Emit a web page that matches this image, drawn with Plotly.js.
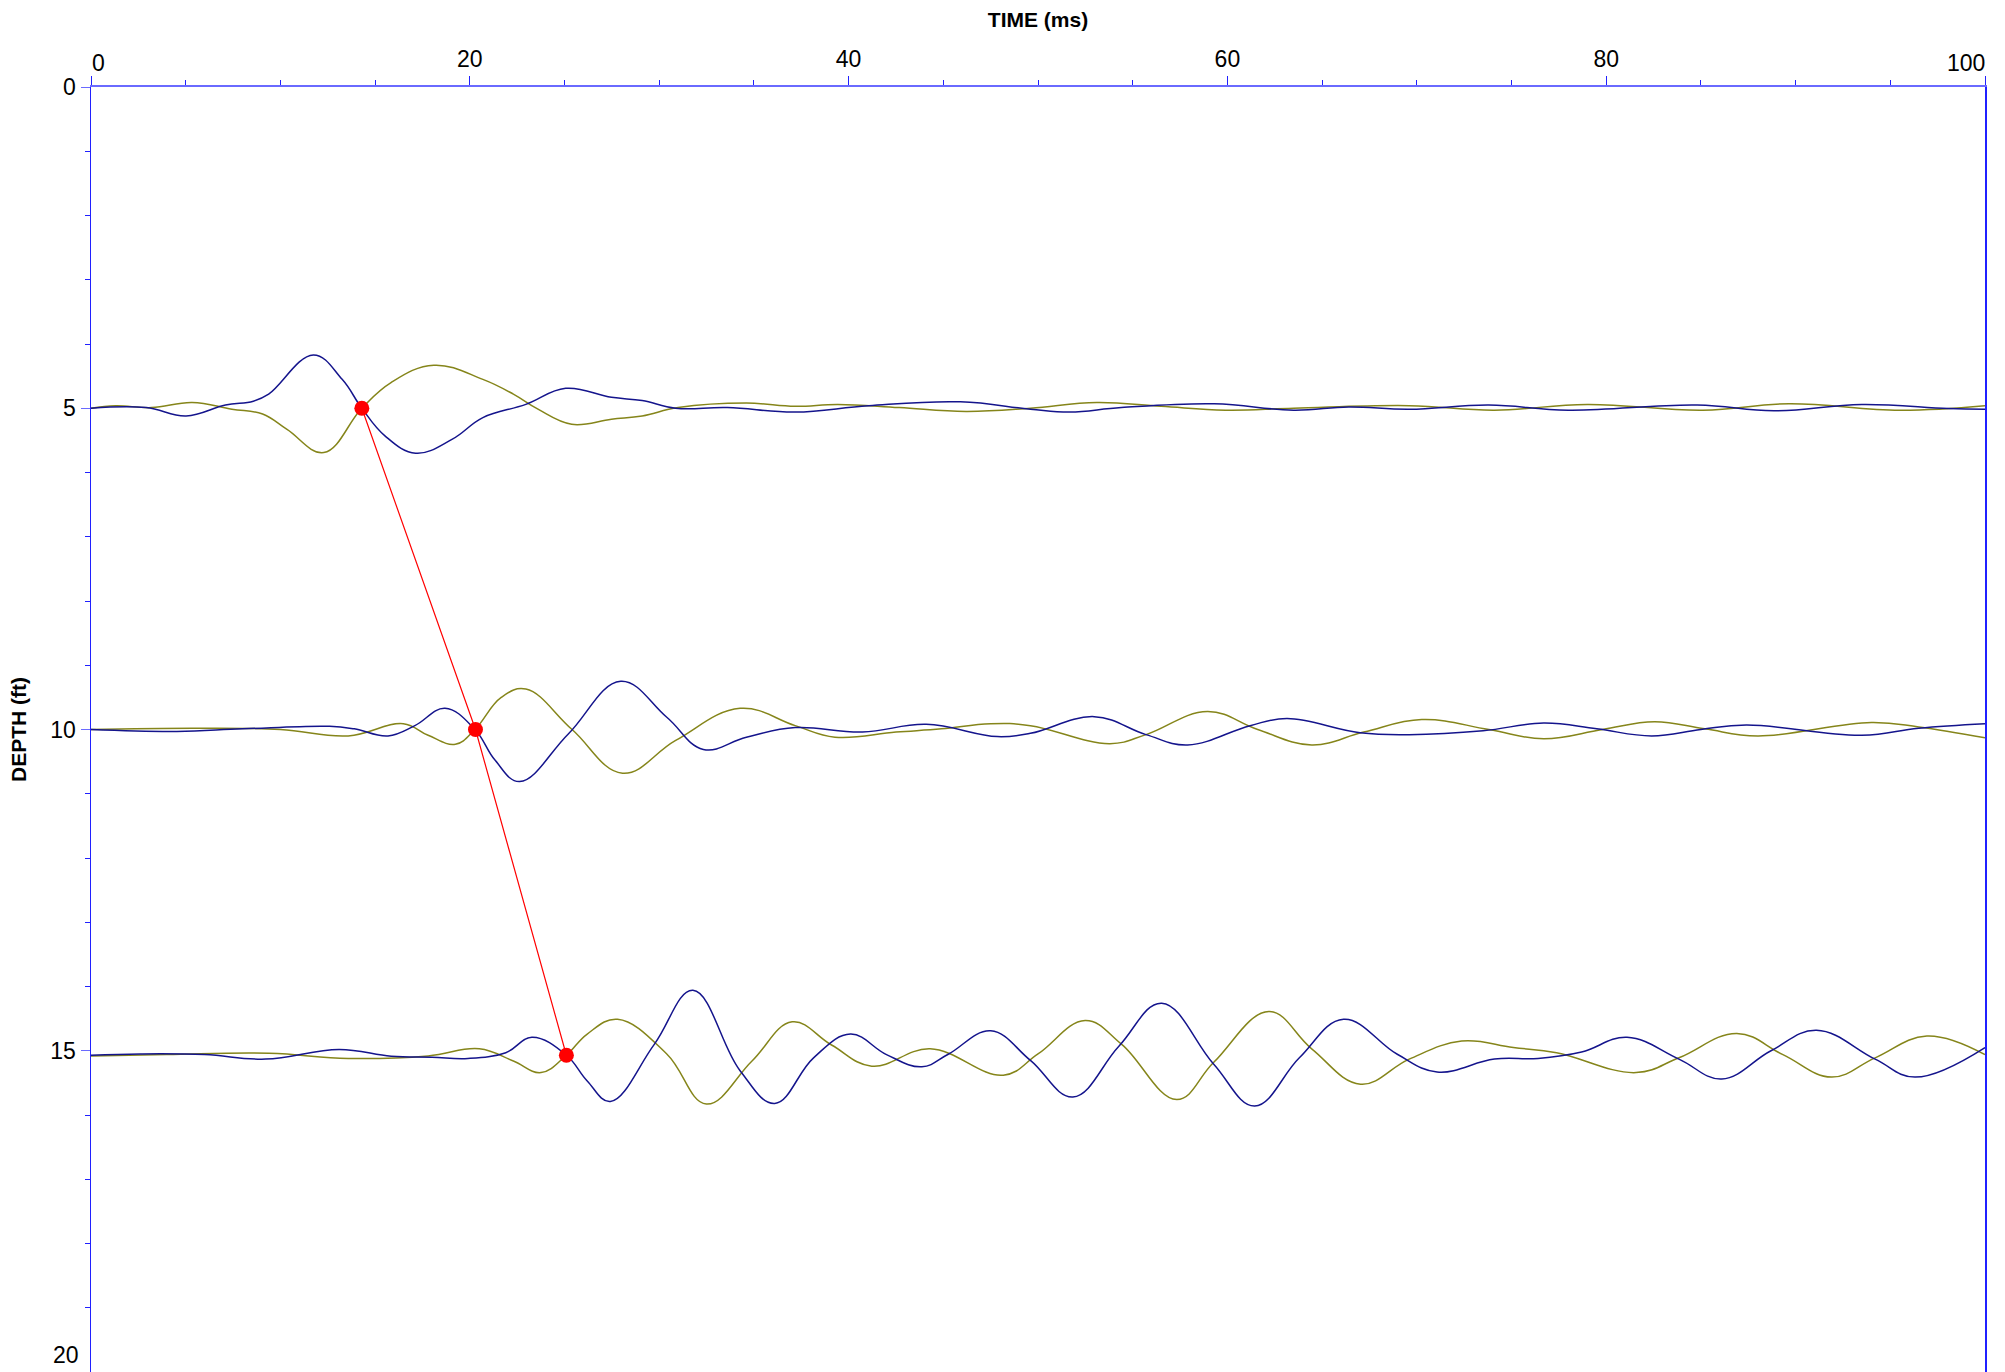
<!DOCTYPE html>
<html>
<head>
<meta charset="utf-8">
<script src="https://cdn.plot.ly/plotly-3.0.1.min.js"></script>
<style>html,body{margin:0;padding:0;background:#fff;overflow:hidden}</style>
</head>
<body>
<div id="chart" style="width:2005px;height:1372px"></div>
<script>
// ---- Data (time in ms, depth in ft) ----
const blue5 = [[0,5.0],[2.9,4.99],[5.02,5.12],[7.1,4.95],[8.57,4.89],[9.38,4.78],[11.74,4.17],[13.26,4.55],[14.3,5.0],[15.52,5.43],[17.14,5.70],[19.08,5.48],[20.69,5.145],[22.96,4.94],[25.06,4.69],[27.48,4.83],[29.1,4.88],[30.87,5.0],[33.6,4.99],[37.18,5.06],[41.06,4.96],[45.9,4.90],[49.6,5.015],[51.68,5.06],[54.4,4.99],[59.3,4.93],[63.5,5.03],[66.4,4.98],[69.6,5.015],[73.8,4.95],[78.0,5.03],[84.8,4.95],[88.85,5.04],[93.5,4.94],[98.06,5.005],[100,5.015]];
const olive5 = [[0,5.0],[1.3,4.96],[3.2,4.99],[5.34,4.91],[7.44,5.015],[9.06,5.09],[10.35,5.33],[12.29,5.69],[14.3,5.0],[15.84,4.60],[18.1,4.33],[20.69,4.55],[22.3,4.78],[23.6,5.015],[25.38,5.25],[27.48,5.17],[29.1,5.12],[31.0,4.99],[34.6,4.92],[37.18,4.97],[39.44,4.94],[42.67,4.99],[46.2,5.05],[49.6,5.0],[53.1,4.91],[56.5,4.97],[59.9,5.03],[63.5,5.0],[69.6,4.96],[74.1,5.03],[79.0,4.94],[85.1,5.03],[89.65,4.93],[95.5,5.03],[100,4.96]];
const blue10 = [[0,10.0],[4.53,10.03],[8,9.99],[12.6,9.95],[13.9,9.99],[15.68,10.10],[17.1,9.94],[18.69,9.67],[20.27,10.0],[21.34,10.48],[22.63,10.81],[25.2,10.07],[27.97,9.25],[30.4,9.81],[32.33,10.31],[34.6,10.12],[37.18,9.97],[40.73,10.04],[44.1,9.92],[47.85,10.11],[49.6,10.06],[52.97,9.80],[55.7,10.08],[57.9,10.24],[61.2,9.94],[63.15,9.83],[67.0,10.05],[69.6,10.08],[73.5,10.02],[76.7,9.90],[79.5,9.99],[82.4,10.10],[85.0,10.0],[87.4,9.93],[93.5,10.09],[96.5,9.98],[100,9.91]];
const olive10 = [[0,10.0],[5.5,9.98],[10,10.0],[13.58,10.10],[16.49,9.91],[17.8,10.09],[19.24,10.23],[20.27,10.0],[21.66,9.50],[22.96,9.37],[25.4,10.0],[28.06,10.68],[30.87,10.17],[34.27,9.67],[37.18,9.94],[39.28,10.12],[42.5,10.04],[44.9,9.99],[47.5,9.91],[49.6,9.94],[53.8,10.22],[55.7,10.08],[58.95,9.72],[61.6,10.0],[64.45,10.24],[67.2,10.04],[70.26,9.845],[73.8,10.0],[76.7,10.145],[79.8,10.0],[82.55,9.88],[85.2,9.99],[88.0,10.10],[94.0,9.89],[96.5,9.96],[100,10.13]];
const blue15 = [[0,15.07],[2.6,15.05],[6,15.06],[9.22,15.13],[13.1,14.98],[15.85,15.085],[18,15.10],[19.9,15.12],[21.9,15.03],[23.28,14.79],[25.1,15.07],[26.2,15.47],[27.42,15.79],[29.74,14.9],[31.78,14.06],[34.27,15.31],[36.1,15.82],[38.15,15.11],[40.1,14.74],[42.0,15.06],[43.87,15.25],[45.26,15.055],[47.5,14.69],[49.6,15.15],[51.84,15.72],[54.27,14.93],[56.53,14.26],[59.28,15.21],[61.44,15.86],[63.8,15.11],[66.13,14.51],[68.97,15.055],[71.07,15.33],[74.1,15.13],[76.4,15.12],[78.7,15.02],[81.1,14.79],[83.84,15.13],[86.1,15.44],[88.7,15.0],[91.1,14.68],[94.2,15.13],[96.3,15.41],[100,14.95]];
const olive15 = [[0,15.08],[4,15.06],[9.4,15.04],[13.58,15.12],[17.8,15.08],[20.5,14.97],[22.3,15.16],[23.76,15.34],[25.1,15.07],[26.2,14.74],[27.8,14.51],[30.4,15.05],[32.49,15.83],[34.9,15.16],[37.02,14.55],[39.1,14.91],[41.22,15.24],[44.3,14.97],[48.17,15.38],[50.0,15.05],[52.49,14.53],[54.42,14.9],[57.33,15.76],[59.28,15.18],[62.19,14.39],[64.45,14.97],[67.03,15.52],[69.6,15.13],[72.37,14.85],[75.1,14.95],[77.38,15.03],[81.58,15.34],[83.84,15.11],[86.9,14.73],[89.33,15.06],[91.9,15.41],[94.2,15.11],[96.93,14.77],[100,15.06]];
const pickTimes = [14.3, 20.3, 25.1];
const pickDepths = [5.0, 10.0, 15.07];
const xTickVals = [0, 20, 40, 60, 80, 100];
const xTickText = ['', '20', '40', '60', '80', ''];
const yTickVals = [0, 5, 10, 15, 20];
const yTickText = ['0', '5', '10', '15', ''];

const BLUE = '#14148c';
const OLIVE = '#85851a';
const TICKFONT = {family: 'Arial, "Liberation Sans", sans-serif', size: 23, color: '#000'};

function wave(pts, color) {
  return {
    x: pts.map(p => p[0]), y: pts.map(p => p[1]),
    type: 'scatter', mode: 'lines',
    line: {color: color, width: 1.5, shape: 'spline', smoothing: 1.15},
    hoverinfo: 'skip', showlegend: false
  };
}

const traces = [
  wave(olive5, OLIVE), wave(blue5, BLUE),
  wave(olive10, OLIVE), wave(blue10, BLUE),
  wave(olive15, OLIVE), wave(blue15, BLUE),
  {x: pickTimes, y: pickDepths, type: 'scatter', mode: 'lines+markers',
   line: {color: '#ff0000', width: 1.2},
   marker: {color: '#ff0000', size: 15},
   showlegend: false}
];

const layout = {
  width: 2005, height: 1372,
  margin: {l: 91, r: 20, t: 87, b: 0, pad: 0},
  paper_bgcolor: '#ffffff', plot_bgcolor: '#ffffff',
  font: {family: 'Arial, "Liberation Sans", sans-serif', size: 20, color: '#000'},
  showlegend: false,
  xaxis: {
    side: 'top', range: [0, 100], tickvals: xTickVals, ticktext: xTickText,
    ticks: 'outside', ticklen: 9, tickwidth: 1, tickcolor: '#2020ff',
    showline: true, linecolor: '#6a6aff', linewidth: 2, mirror: false,
    showgrid: false, zeroline: false,
    tickfont: TICKFONT,
    minor: {dtick: 5, ticks: 'outside', ticklen: 5, tickcolor: '#2020ff', showgrid: false},
    title: {text: 'TIME (ms)', font: {size: 21, weight: 'bold', color: '#000'}, standoff: 12}
  },
  yaxis: {
    range: [20, 0], tickvals: yTickVals, ticktext: yTickText,
    ticks: 'outside', ticklen: 9, tickwidth: 1, tickcolor: '#6a6aff',
    showline: true, linecolor: '#2020ff', linewidth: 1.5, mirror: true,
    showgrid: false, zeroline: false,
    tickfont: TICKFONT,
    minor: {dtick: 1, ticks: 'outside', ticklen: 5, tickcolor: '#2020ff', showgrid: false},
    title: {text: 'DEPTH (ft)', font: {size: 21, weight: 'bold', color: '#000'}, standoff: 18}
  },
  annotations: [
    {text: '0', x: 0, y: 1, xref: 'x', yref: 'paper', xanchor: 'left', yanchor: 'bottom',
     xshift: -1, yshift: 9, showarrow: false, font: TICKFONT},
    {text: '100', x: 100, y: 1, xref: 'x', yref: 'paper', xanchor: 'right', yanchor: 'bottom',
     xshift: 2, yshift: 9, showarrow: false, font: TICKFONT},
    {text: '20', x: 0, y: 20, xref: 'paper', yref: 'y', xanchor: 'right', yanchor: 'bottom',
     xshift: -10, yshift: 2, showarrow: false, font: TICKFONT}
  ]
};

Plotly.newPlot('chart', traces, layout, {displayModeBar: false, staticPlot: true});
</script>
</body>
</html>
